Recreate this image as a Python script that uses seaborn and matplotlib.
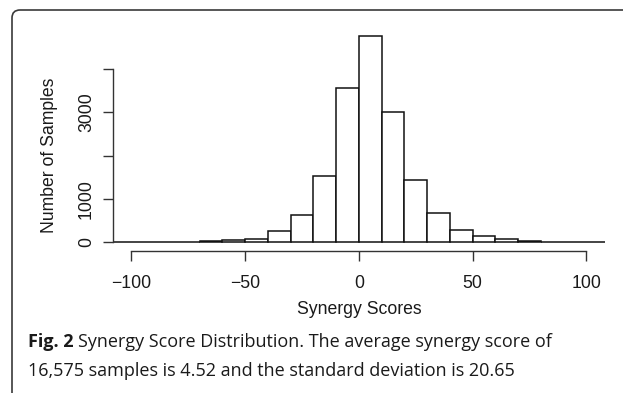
import numpy as np
import pandas as pd
import matplotlib
matplotlib.use("Agg")
import matplotlib.pyplot as plt
import seaborn as sns
from matplotlib.patches import FancyBboxPatch

# ---- data ----
bin_edges = [-110, -100, -90, -80, -70, -60, -50, -40, -30, -20, -10,
             0, 10, 20, 30, 40, 50, 60, 70, 80, 90, 100, 110]
counts = [3, 6, 8, 6, 22, 50, 88, 270, 623, 1540, 3558,
          4765, 3005, 1430, 669, 279, 152, 70, 40, 15, 8, 3]
x_ticks = [-100, -50, 0, 50, 100]
x_tick_labels = ["\u2212100", "\u221250", "0", "50", "100"]
y_ticks = [0, 1000, 2000, 3000, 4000]
y_tick_labels = ["0", "1000", "", "3000", ""]
x_label = "Synergy Scores"
y_label = "Number of Samples"
caption_bold = "Fig. 2"
caption_line1 = "Synergy Score Distribution. The average synergy score of"
caption_line2 = "16,575 samples is 4.52 and the standard deviation is 20.65"

sns.set_style("ticks")
plt.rcParams["font.family"] = ["Liberation Sans", "DejaVu Sans"]

W, H = 623, 393
fig = plt.figure(figsize=(W / 100, H / 100), dpi=100)

# plot region in pixels
left_px, right_px, top_px, bottom_px = 113.3, 604.6, 27.0, 250.6
ax = fig.add_axes([left_px / W, (H - bottom_px) / H,
                   (right_px - left_px) / W, (bottom_px - top_px) / H])

edges = np.array(bin_edges, dtype=float)
centers = (edges[:-1] + edges[1:]) / 2
df = pd.DataFrame({"score": centers, "n": counts})

sns.histplot(data=df, x="score", weights="n", bins=bin_edges, ax=ax,
             color="white", edgecolor="#111111", linewidth=1.1, alpha=1)

ax.set_xlim(-108, 108)
ax.set_ylim(-191, 4968)

for s in ["top", "right"]:
    ax.spines[s].set_visible(False)
ax.spines["left"].set_bounds(0, 4000)
ax.spines["bottom"].set_bounds(-100, 100)
for s in ["left", "bottom"]:
    ax.spines[s].set_color("#333333")
    ax.spines[s].set_linewidth(1.0)

fs = 12.7
ax.set_xticks(x_ticks)
ax.set_xticklabels(x_tick_labels, fontsize=fs, color="#1a1a1a")
ax.set_yticks(y_ticks)
ax.set_yticklabels(y_tick_labels, fontsize=fs, color="#1a1a1a",
                   rotation=90, va="center")
ax.tick_params(axis="both", length=7.3, width=1.0, color="#333333")
ax.tick_params(axis="x", pad=10.5)
ax.tick_params(axis="y", pad=6)

ax.set_xlabel(x_label, fontsize=fs, color="#1a1a1a")
ax.set_ylabel(y_label, fontsize=fs, color="#1a1a1a")
ax.xaxis.label.set_va("center")
ax.yaxis.label.set_va("center")
ax.xaxis.set_label_coords((359.6 - left_px) / (right_px - left_px),
                          (bottom_px - 310) / (bottom_px - top_px))
ax.yaxis.set_label_coords((49.7 - left_px) / (right_px - left_px),
                          (bottom_px - 155) / (bottom_px - top_px))

# rounded frame around the figure panel
frame = FancyBboxPatch((12, -100), 800, H - 10 + 100,
                       boxstyle="round,pad=0,rounding_size=8",
                       transform=None, fill=False, edgecolor="#3a3a3a",
                       linewidth=1.2, zorder=0)
fig.patches.append(frame)

# caption
cfont = ["Open Sans", "DejaVu Sans"]
cfs = 13.0
t_bold = fig.text(28 / W, (H - 347) / H, caption_bold, fontsize=cfs,
                  fontweight="bold", family=cfont, va="baseline", ha="left",
                  color="#1a1a1a")
fig.canvas.draw()
r = fig.canvas.get_renderer()
bb = t_bold.get_window_extent(renderer=r)
fig.text((bb.x1 + 4) / W, (H - 347) / H, caption_line1, fontsize=cfs,
         family=cfont, va="baseline", ha="left", color="#1a1a1a")
fig.text(28 / W, (H - 376) / H, caption_line2, fontsize=cfs,
         family=cfont, va="baseline", ha="left", color="#1a1a1a")

fig.savefig("out.png", dpi=100)
